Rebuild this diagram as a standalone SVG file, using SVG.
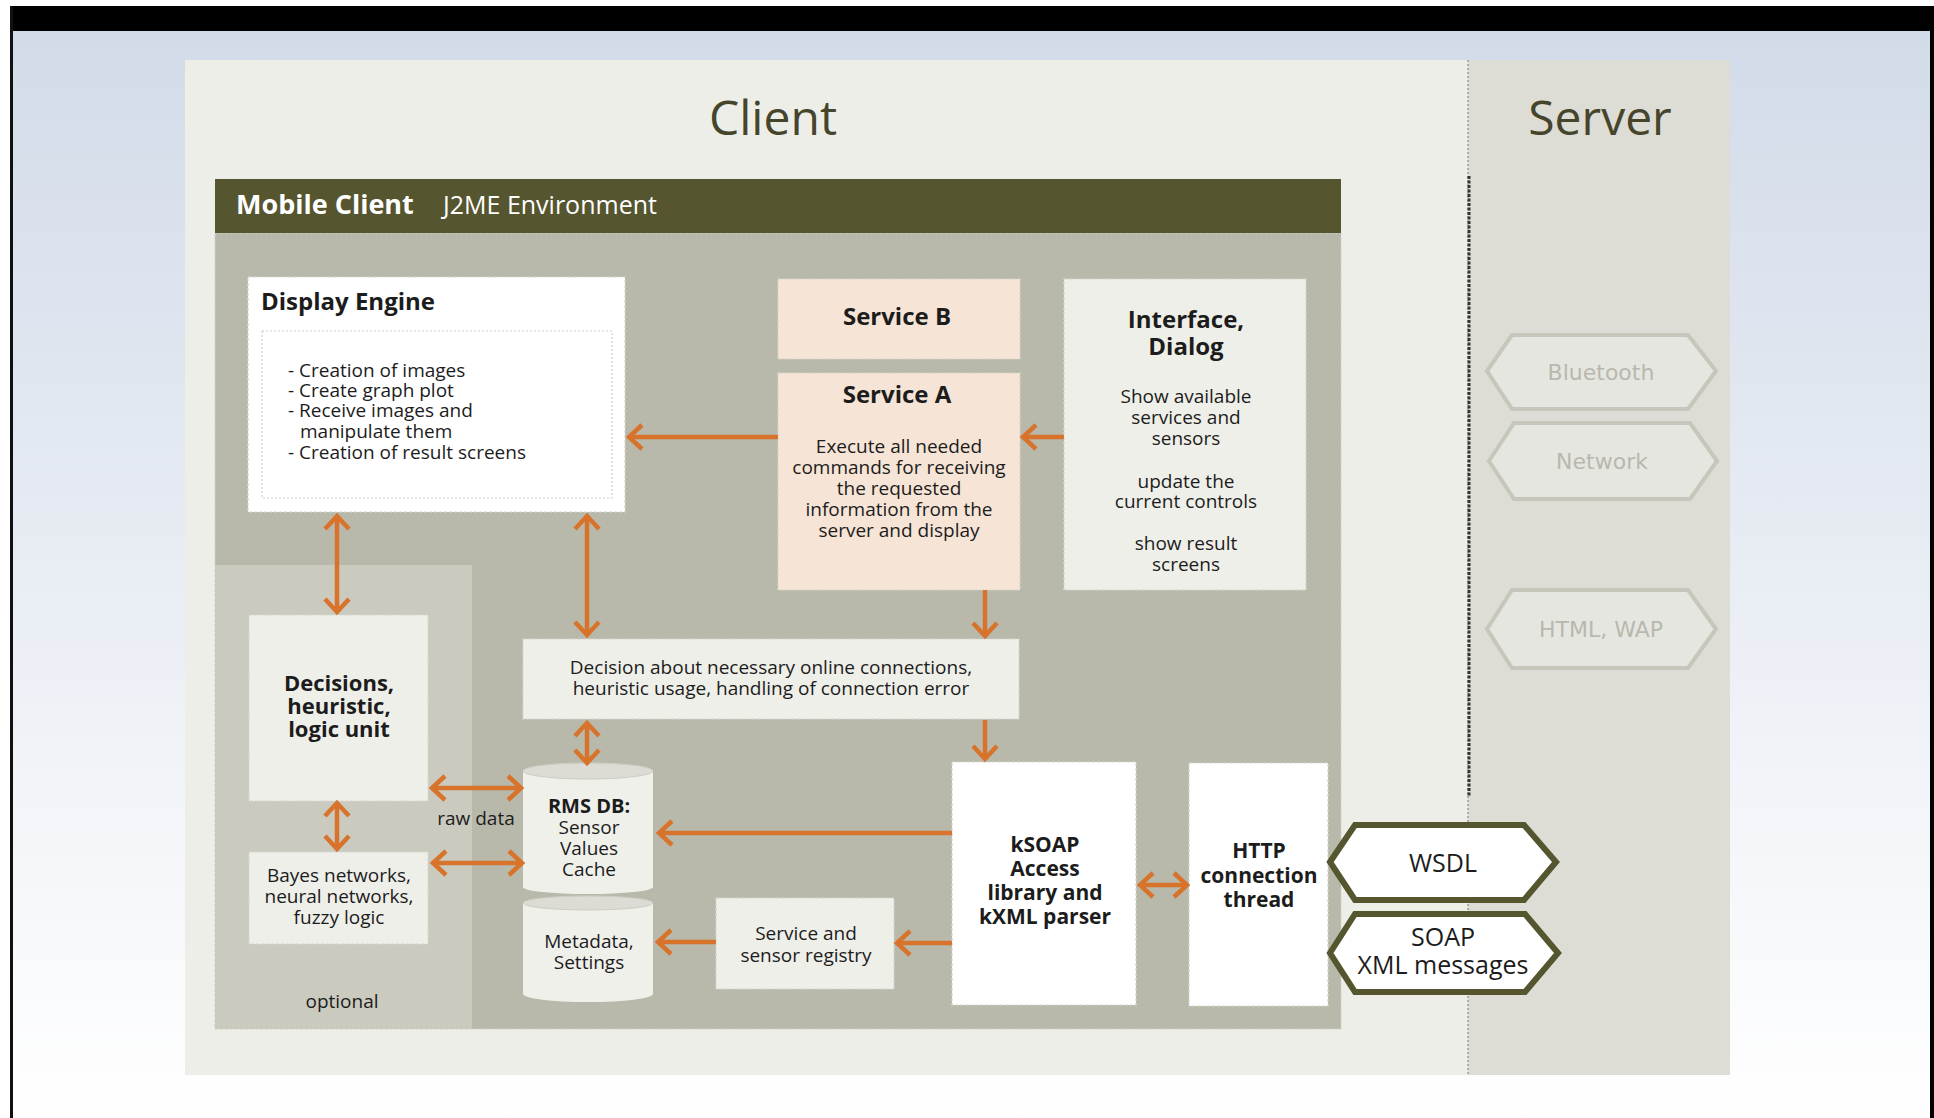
<svg xmlns="http://www.w3.org/2000/svg" width="1934" height="1118" viewBox="0 0 1934 1118">
<defs>
<linearGradient id="bg" x1="0" y1="0" x2="0" y2="1">
<stop offset="0" stop-color="#d2dbe9"/>
<stop offset="1" stop-color="#ffffff"/>
</linearGradient>
<marker id="ah" markerUnits="userSpaceOnUse" viewBox="-18 -16 24 32" markerWidth="24" markerHeight="32" refX="0" refY="0" orient="auto-start-reverse">
<path d="M-13,-12 L0,0 L-13,12" fill="none" stroke="#d8732c" stroke-width="4.5"/>
</marker>
<style>
.t{font-family:"Open Sans","Liberation Sans",sans-serif;fill:#1c1c1c}
.c{text-anchor:middle}
.b{font-weight:bold}
.s19{font-size:19px}
.box{stroke:#d6d6ce;stroke-width:1.2;stroke-dasharray:3 2}
.lt{fill:#efefea}
.wh{fill:#ffffff}
.pe{fill:#f6e4d6}
.arr{stroke:#d8732c;stroke-width:4.5;fill:none;marker-end:url(#ah)}
.dbl{marker-start:url(#ah)}
.hexg{fill:#e6e6e0;stroke:#c6c6bb;stroke-width:4}
.hexd{fill:#ffffff;stroke:#55552f;stroke-width:6}
.gt{font-family:"DejaVu Sans","Open Sans",sans-serif;font-size:22px;fill:#b8b8ae;text-anchor:middle}
</style>
</defs>

<!-- background frame -->
<rect x="0" y="0" width="1934" height="1118" fill="#ffffff"/>
<rect x="13" y="31" width="1917" height="1087" fill="url(#bg)"/>
<rect x="10" y="6" width="1924" height="25" fill="#000000"/>
<rect x="10" y="6" width="3" height="1112" fill="#111111"/>
<rect x="1930" y="6" width="4" height="1112" fill="#000000"/>

<!-- panels -->
<rect x="185" y="60" width="1283" height="1015" fill="#eeeee9"/>
<rect x="1468" y="60" width="262" height="1015" fill="#dddcd5"/>
<line x1="1468" y1="60" x2="1468" y2="1075" stroke="#777770" stroke-width="1" stroke-dasharray="2 2"/>
<line x1="1469" y1="176" x2="1469" y2="796" stroke="#333333" stroke-width="3" stroke-dasharray="3 1.5"/>
<text class="t" x="773" y="135" text-anchor="middle" font-size="48" fill="#45452c" style="fill:#45452c">Client</text>
<text class="t" x="1600" y="135" text-anchor="middle" font-size="48" style="fill:#45452c">Server</text>

<!-- server-side protocols -->
<g id="bluetooth">
<polygon class="hexg" points="1487,371 1512,335 1688,335 1716,371 1688,409 1512,409"/>
<text class="gt" x="1601" y="380">Bluetooth</text>
</g>
<g id="network">
<polygon class="hexg" points="1489,461 1514,423 1690,423 1717,461 1690,499 1514,499"/>
<text class="gt" x="1602" y="469">Network</text>
</g>
<g id="htmlwap">
<polygon class="hexg" points="1487,629 1512,590 1688,590 1716,629 1688,668 1512,668"/>
<text class="gt" x="1601" y="637">HTML, WAP</text>
</g>

<!-- mobile client container -->
<g id="mobile-client">
<rect x="215" y="233" width="1126" height="796" fill="#b9b9ab" stroke="#cfcfc4" stroke-width="1" stroke-dasharray="3 2"/>
<rect x="215" y="179" width="1126" height="54" fill="#55552f"/>
<text class="t b" x="236" y="214" font-size="27" style="fill:#ffffff">Mobile Client</text>
<text class="t" x="443" y="214" font-size="25" style="fill:#ffffff">J2ME Environment</text>
</g>
<g id="optional">
<rect x="215" y="565" width="257" height="464" fill="#cacabf"/>
<text class="t c s19" x="342" y="1008">optional</text>
</g>

<!-- nodes -->
<g id="display-engine">
<rect class="box wh" x="248" y="277" width="377" height="235"/>
<text class="t b" x="261" y="310" font-size="24">Display Engine</text>
<rect x="262" y="331" width="350" height="167" fill="none" stroke="#cfcfcf" stroke-width="1.2" stroke-dasharray="2 2"/>
<text class="t s19" x="288" y="377">- Creation of images</text>
<text class="t s19" x="288" y="397">- Create graph plot</text>
<text class="t s19" x="288" y="417">- Receive images and</text>
<text class="t s19" x="300" y="438">manipulate them</text>
<text class="t s19" x="288" y="459">- Creation of result screens</text>
</g>

<g id="service-b">
<rect class="box pe" x="778" y="279" width="242" height="80"/>
<text class="t b c" x="897" y="325" font-size="24">Service B</text>
</g>

<g id="service-a">
<rect class="box pe" x="778" y="373" width="242" height="217"/>
<text class="t b c" x="897" y="403" font-size="24">Service A</text>
<text class="t c s19" x="899" y="453">Execute all needed</text>
<text class="t c s19" x="899" y="474">commands for receiving</text>
<text class="t c s19" x="899" y="495">the requested</text>
<text class="t c s19" x="899" y="516">information from the</text>
<text class="t c s19" x="899" y="537">server and display</text>
</g>

<g id="interface-dialog">
<rect class="box lt" x="1064" y="279" width="242" height="311"/>
<text class="t b c" x="1186" y="328" font-size="24">Interface,</text>
<text class="t b c" x="1186" y="355" font-size="24">Dialog</text>
<text class="t c s19" x="1186" y="403">Show available</text>
<text class="t c s19" x="1186" y="424">services and</text>
<text class="t c s19" x="1186" y="445">sensors</text>
<text class="t c s19" x="1186" y="488">update the</text>
<text class="t c s19" x="1186" y="508">current controls</text>
<text class="t c s19" x="1186" y="550">show result</text>
<text class="t c s19" x="1186" y="571">screens</text>
</g>

<g id="connection-decision">
<rect class="box lt" x="523" y="639" width="496" height="80"/>
<text class="t c s19" x="771" y="674">Decision about necessary online connections,</text>
<text class="t c s19" x="771" y="695">heuristic usage, handling of connection error</text>
</g>

<g id="logic-unit">
<rect class="box lt" x="249" y="615" width="179" height="186"/>
<text class="t b c" x="339" y="691" font-size="22">Decisions,</text>
<text class="t b c" x="339" y="714" font-size="22">heuristic,</text>
<text class="t b c" x="339" y="737" font-size="22">logic unit</text>
</g>

<g id="bayes">
<rect class="box lt" x="249" y="852" width="179" height="92"/>
<text class="t c s19" x="339" y="882">Bayes networks,</text>
<text class="t c s19" x="339" y="903">neural networks,</text>
<text class="t c s19" x="339" y="924">fuzzy logic</text>
</g>

<g id="rms-db">
<path d="M523,771 L523,887 A65,7 0 0 0 653,887 L653,771 Z" fill="#f0f0eb"/>
<ellipse cx="588" cy="771" rx="65" ry="8" fill="#dcdcd4" stroke="#cdcdc4" stroke-width="1"/>
<text class="t b c" x="589" y="813" font-size="20">RMS DB:</text>
<text class="t c s19" x="589" y="834">Sensor</text>
<text class="t c s19" x="589" y="855">Values</text>
<text class="t c s19" x="589" y="876">Cache</text>
</g>

<g id="metadata">
<path d="M523,903 L523,994 A65,8 0 0 0 653,994 L653,903 Z" fill="#f0f0eb"/>
<ellipse cx="588" cy="903" rx="65" ry="7" fill="#dcdcd4" stroke="#cdcdc4" stroke-width="1"/>
<text class="t c s19" x="589" y="948">Metadata,</text>
<text class="t c s19" x="589" y="969">Settings</text>
</g>

<g id="registry">
<rect class="box lt" x="716" y="898" width="178" height="91"/>
<text class="t c s19" x="806" y="940">Service and</text>
<text class="t c s19" x="806" y="962">sensor registry</text>
</g>

<g id="ksoap">
<rect class="box wh" x="952" y="762" width="184" height="243"/>
<text class="t b c" x="1045" y="852" font-size="21">kSOAP</text>
<text class="t b c" x="1045" y="876" font-size="21">Access</text>
<text class="t b c" x="1045" y="900" font-size="21">library and</text>
<text class="t b c" x="1045" y="924" font-size="21">kXML parser</text>
</g>

<g id="http-thread">
<rect class="box wh" x="1189" y="763" width="139" height="243"/>
<text class="t b c" x="1259" y="858" font-size="21">HTTP</text>
<text class="t b c" x="1259" y="883" font-size="21">connection</text>
<text class="t b c" x="1259" y="907" font-size="21">thread</text>
</g>

<g id="wsdl">
<polygon class="hexd" points="1330,862 1355,825 1524,825 1556,862 1524,900 1355,900"/>
<text class="t c" x="1443" y="872" font-size="25">WSDL</text>
</g>
<g id="soap">
<polygon class="hexd" points="1330,953 1355,914 1525,914 1558,953 1525,992 1355,992"/>
<text class="t c" x="1443" y="946" font-size="25">SOAP</text>
<text class="t c" x="1443" y="974" font-size="25">XML messages</text>
</g>

<!-- connectors -->
<g id="connectors">
<line class="arr" x1="778" y1="437" x2="629" y2="437"/>
<line class="arr" x1="1064" y1="437" x2="1023" y2="437"/>
<line class="arr dbl" x1="337" y1="516" x2="337" y2="612"/>
<line class="arr dbl" x1="587" y1="516" x2="587" y2="635"/>
<line class="arr" x1="985" y1="590" x2="985" y2="636"/>
<line class="arr" x1="985" y1="720" x2="985" y2="759"/>
<line class="arr dbl" x1="587" y1="723" x2="587" y2="763"/>
<line class="arr dbl" x1="432" y1="788" x2="521" y2="788"/>
<text class="t c s19" x="476" y="825">raw data</text>
<line class="arr dbl" x1="337" y1="803" x2="337" y2="849"/>
<line class="arr dbl" x1="433" y1="863" x2="522" y2="863"/>
<line class="arr" x1="952" y1="833" x2="659" y2="833"/>
<line class="arr" x1="952" y1="943" x2="897" y2="943"/>
<line class="arr" x1="716" y1="942" x2="658" y2="942"/>
<line class="arr dbl" x1="1140" y1="885" x2="1187" y2="885"/>
</g>
</svg>
